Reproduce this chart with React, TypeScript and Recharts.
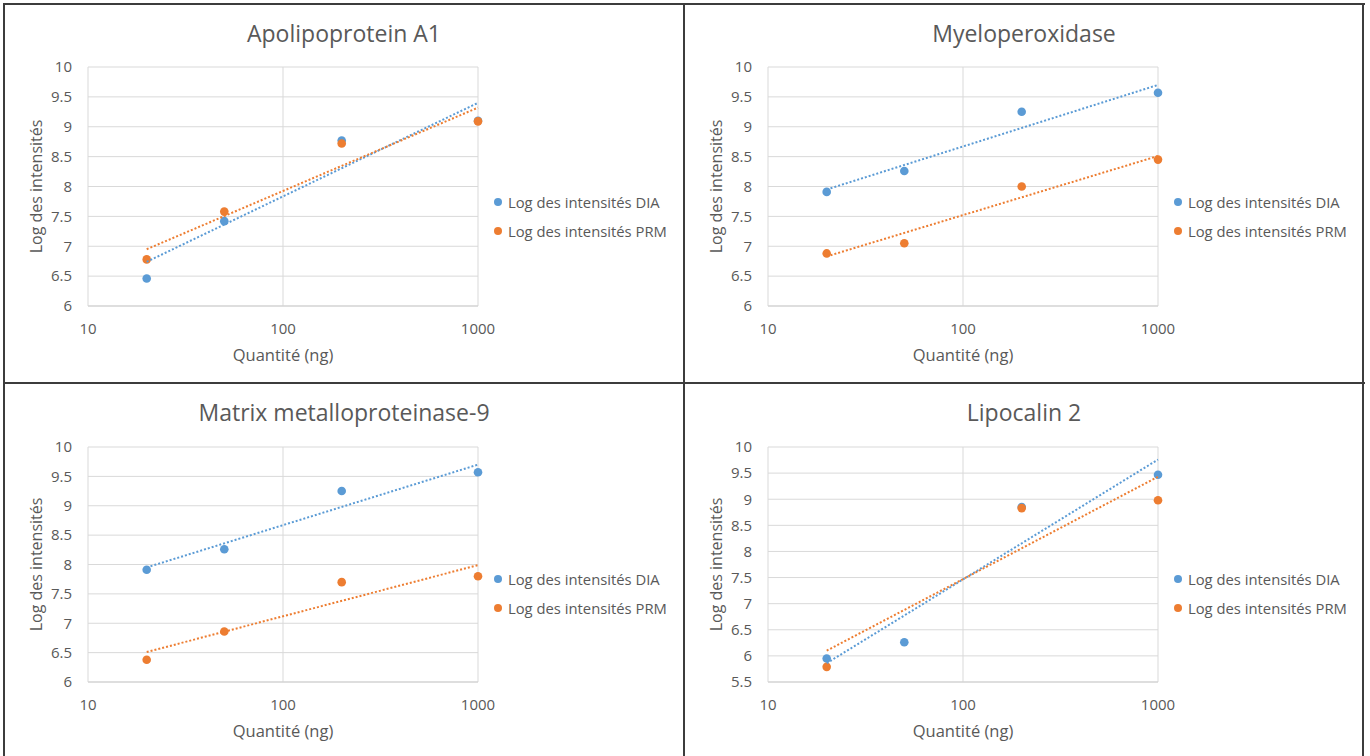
import React from "react";
import { ScatterChart, Scatter, XAxis, YAxis, CartesianGrid } from "recharts";

// x positions (ng)
const quantities = [20, 50, 200, 1000];
const trendQuantities = [20, 1000];
const xTicks = [10, 100, 1000];
const yTicksStd = [6, 6.5, 7, 7.5, 8, 8.5, 9, 9.5, 10];
const yTicksLcn = [5.5, 6, 6.5, 7, 7.5, 8, 8.5, 9, 9.5, 10];

const seriesNames = ["Log des intensités DIA", "Log des intensités PRM"];
const BLUE = "#5B9BD5";
const ORANGE = "#ED7D31";
const TEXT = "#595959";
const FONT = "'Open Sans', sans-serif";

// Apolipoprotein A1
const apoDia = [6.46, 7.42, 8.77, 9.1];
const apoPrm = [6.78, 7.58, 8.72, 9.09];
const apoDiaTrend = [6.74, 9.4];
const apoPrmTrend = [6.95, 9.32];

// Myeloperoxidase
const mpoDia = [7.91, 8.26, 9.25, 9.57];
const mpoPrm = [6.88, 7.05, 8.0, 8.45];
const mpoDiaTrend = [7.95, 9.7];
const mpoPrmTrend = [6.83, 8.51];

// Matrix metalloproteinase-9
const mmpDia = [7.91, 8.26, 9.25, 9.57];
const mmpPrm = [6.38, 6.86, 7.7, 7.8];
const mmpDiaTrend = [7.95, 9.7];
const mmpPrmTrend = [6.51, 7.99];

// Lipocalin 2 (no PRM value at 50 ng)
const lcnDia = [5.95, 6.26, 8.85, 9.47];
const lcnPrm = [5.79, null, 8.83, 8.98];
const lcnDiaTrend = [5.86, 9.76];
const lcnPrmTrend = [6.1, 9.43];

const toPoints = (xs: number[], ys: (number | null)[]) =>
  xs.map((x, i) => ({ x, y: ys[i] })).filter((p) => p.y !== null);

interface PanelProps {
  title: string;
  left: number;
  top: number;
  height: number;
  marginTop: number;
  marginBottom: number;
  yTicks: number[];
  dia: (number | null)[];
  prm: (number | null)[];
  diaTrend: number[];
  prmTrend: number[];
  legendTop: number;
}

function Panel(props: PanelProps) {
  const { title, left, top, height, marginTop, marginBottom, yTicks, legendTop } = props;
  const dot = (color: string) => (p: any) => <circle cx={p.cx} cy={p.cy} r={4.3} fill={color} />;
  const noDot = () => <g />;
  return (
    <div style={{ position: "absolute", left, top, width: 680, height }}>
      <div
        style={{
          position: "absolute",
          left: 0,
          width: 680,
          top: 15,
          textAlign: "center",
          fontFamily: FONT,
          fontSize: 23,
          lineHeight: "28px",
          color: TEXT,
        }}
      >
        {title}
      </div>
      <ScatterChart
        width={680}
        height={height}
        margin={{ top: marginTop, right: 206, left: 20, bottom: marginBottom }}
      >
        <CartesianGrid stroke="#d9d9d9" strokeWidth={1} />
        <XAxis
          type="number"
          dataKey="x"
          scale="log"
          domain={[10, 1000]}
          ticks={xTicks}
          height={60}
          tickLine={false}
          tickSize={0}
          tickMargin={17}
          axisLine={{ stroke: "#d0d0d0" }}
          tick={{ fill: TEXT, fontSize: 15, fontFamily: FONT }}
          label={{
            value: "Quantité (ng)",
            position: "insideBottom",
            offset: 5,
            fill: TEXT,
            fontSize: 16.5,
            fontFamily: FONT,
          }}
        />
        <YAxis
          type="number"
          dataKey="y"
          domain={[yTicks[0], yTicks[yTicks.length - 1]]}
          ticks={yTicks}
          width={64}
          tickLine={false}
          tickSize={0}
          tickMargin={16}
          axisLine={false}
          tick={{ fill: TEXT, fontSize: 15, fontFamily: FONT }}
          label={{
            value: "Log des intensités",
            angle: -90,
            position: "insideLeft",
            offset: 12,
            fill: TEXT,
            fontSize: 16,
            fontFamily: FONT,
            style: { textAnchor: "middle" },
          }}
        />
        <Scatter
          name={seriesNames[0]}
          data={toPoints(quantities, props.dia)}
          fill={BLUE}
          shape={dot(BLUE)}
          isAnimationActive={false}
        />
        <Scatter
          name={seriesNames[1]}
          data={toPoints(quantities, props.prm)}
          fill={ORANGE}
          shape={dot(ORANGE)}
          isAnimationActive={false}
        />
        <Scatter
          data={toPoints(trendQuantities, props.diaTrend)}
          fill="none"
          line={{ stroke: BLUE, strokeWidth: 2, strokeDasharray: "2 2" }}
          shape={noDot}
          legendType="none"
          isAnimationActive={false}
        />
        <Scatter
          data={toPoints(trendQuantities, props.prmTrend)}
          fill="none"
          line={{ stroke: ORANGE, strokeWidth: 2, strokeDasharray: "2 2" }}
          shape={noDot}
          legendType="none"
          isAnimationActive={false}
        />
      </ScatterChart>
      {seriesNames.map((name, i) => (
        <div
          key={name}
          style={{
            position: "absolute",
            left: 490,
            top: legendTop + i * 29 - 10,
            height: 20,
            display: "flex",
            alignItems: "center",
            fontFamily: FONT,
            fontSize: 14.8,
            color: TEXT,
            whiteSpace: "nowrap",
          }}
        >
          <span
            style={{
              display: "inline-block",
              width: 8,
              height: 8,
              borderRadius: "50%",
              background: i === 0 ? BLUE : ORANGE,
              marginRight: 6,
            }}
          />
          {name}
        </div>
      ))}
    </div>
  );
}

export default function App() {
  const line = "#3c3c3c";
  return (
    <div
      style={{
        position: "absolute",
        left: 0,
        top: 0,
        width: 1370,
        height: 756,
        background: "#fff",
        overflow: "hidden",
      }}
    >
      <Panel
        title="Apolipoprotein A1"
        left={4}
        top={4}
        height={379}
        marginTop={63}
        marginBottom={17}
        yTicks={yTicksStd}
        dia={apoDia}
        prm={apoPrm}
        diaTrend={apoDiaTrend}
        prmTrend={apoPrmTrend}
        legendTop={198}
      />
      <Panel
        title="Myeloperoxidase"
        left={684}
        top={4}
        height={379}
        marginTop={63}
        marginBottom={17}
        yTicks={yTicksStd}
        dia={mpoDia}
        prm={mpoPrm}
        diaTrend={mpoDiaTrend}
        prmTrend={mpoPrmTrend}
        legendTop={198}
      />
      <Panel
        title="Matrix metalloproteinase-9"
        left={4}
        top={383}
        height={373}
        marginTop={64}
        marginBottom={14}
        yTicks={yTicksStd}
        dia={mmpDia}
        prm={mmpPrm}
        diaTrend={mmpDiaTrend}
        prmTrend={mmpPrmTrend}
        legendTop={196}
      />
      <Panel
        title="Lipocalin 2"
        left={684}
        top={383}
        height={373}
        marginTop={64}
        marginBottom={14}
        yTicks={yTicksLcn}
        dia={lcnDia}
        prm={lcnPrm}
        diaTrend={lcnDiaTrend}
        prmTrend={lcnPrmTrend}
        legendTop={196}
      />
      <div style={{ position: "absolute", left: 3, top: 3, width: 2, height: 753, background: line }} />
      <div style={{ position: "absolute", left: 3, top: 3, width: 1362, height: 2, background: line }} />
      <div style={{ position: "absolute", left: 1362, top: 3, width: 2, height: 753, background: line }} />
      <div style={{ position: "absolute", left: 683, top: 3, width: 2, height: 753, background: line }} />
      <div style={{ position: "absolute", left: 3, top: 382, width: 1362, height: 2, background: line }} />
    </div>
  );
}
